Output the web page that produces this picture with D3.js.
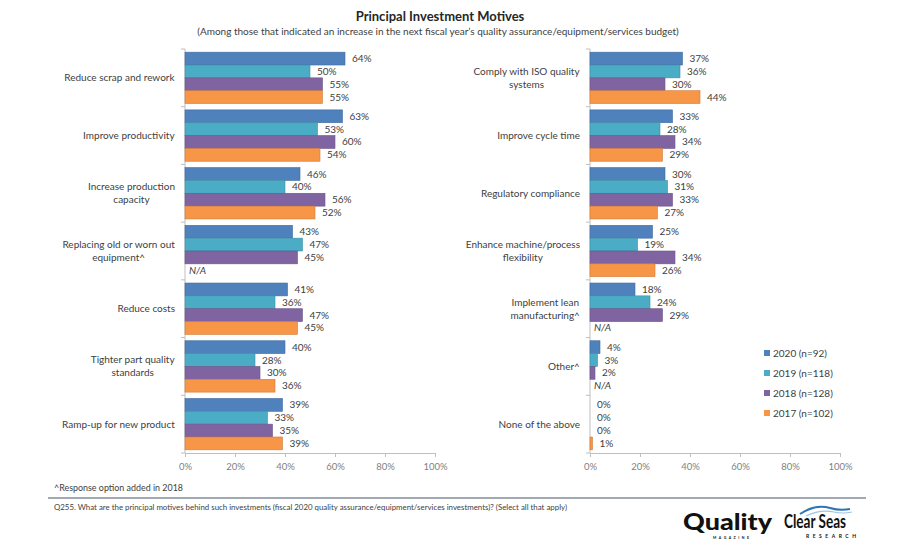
<!DOCTYPE html>
<html><head><meta charset="utf-8">
<script src="https://cdn.jsdelivr.net/npm/d3@7"></script>
<style>body{margin:0;background:#fff}svg{display:block}text{font-family:Lato,"Open Sans",sans-serif}</style>
</head><body><svg id="c" width="900" height="550"></svg>
<script>
const series = ["2020 (n=92)", "2019 (n=118)", "2018 (n=128)", "2017 (n=102)"];
const colors = ["#4F81BD", "#4BACC6", "#8064A2", "#F79646"];
const leftCategories = [["Reduce scrap and rework"],["Improve productivity"],["Increase production","capacity"],["Replacing old or worn out","equipment^"],["Reduce costs"],["Tighter part quality","standards"],["Ramp-up for new product"]];
const leftValues = [[64,50,55,55],[63,53,60,54],[46,40,56,52],[43,47,45,null],[41,36,47,45],[40,28,30,36],[39,33,35,39]];
const rightCategories = [["Comply with ISO quality","systems"],["Improve cycle time"],["Regulatory compliance"],["Enhance machine/process","flexibility"],["Implement lean","manufacturing^"],["Other^"],["None of the above"]];
const rightValues = [[37,36,30,44],[33,28,34,29],[30,31,33,27],[25,19,34,26],[18,24,29,null],[4,3,2,null],[0,0,0,1]];
const xTicks = [0,20,40,60,80,100];

const svg = d3.select("#c");
const textCol = "#404040", axisCol = "#BFBFBF";

svg.append("text").attr("x",440).attr("y",21).attr("text-anchor","middle").attr("font-size",13).attr("font-weight","bold").attr("fill","#262626").text("Principal Investment Motives");
svg.append("text").attr("x",438).attr("y",35).attr("text-anchor","middle").attr("font-size",10).attr("fill",textCol).text("(Among those that indicated an increase in the next fiscal year\u2019s quality assurance/equipment/services budget)");

function panel(x0, cats, vals) {
  const x = d3.scaleLinear().domain([0,100]).range([x0, x0+250]);
  const idx = cats.map((d,i)=>i);
  const y = d3.scaleBand().domain(idx).range([49,453]).paddingInner(0.11).paddingOuter(0.055);
  const yb = d3.scaleBand().domain(d3.range(series.length)).range([0,y.bandwidth()]);
  const step = y.step();
  const g = svg.append("g");
  const ax = g.append("g").attr("transform","translate(0,453)").call(d3.axisBottom(x).tickValues(xTicks).tickFormat(d=>d+"%").tickSize(4).tickSizeOuter(0));
  ax.select(".domain").attr("stroke",axisCol);
  ax.selectAll(".tick line").attr("stroke",axisCol);
  ax.selectAll("text").attr("fill","#7F7F7F").attr("font-size",9.5).attr("font-family","Lato").attr("dy","1.1em");
  g.append("line").attr("x1",x0).attr("x2",x0).attr("y1",49).attr("y2",453).attr("stroke",axisCol);
  d3.range(cats.length+1).forEach(i=>{
    const yy = 49 + i*step;
    g.append("line").attr("x1",x0-4).attr("x2",x0).attr("y1",yy).attr("y2",yy).attr("stroke",axisCol);
  });
  vals.forEach((row,i)=>{
    row.forEach((v,j)=>{
      const yy = y(i)+yb(j);
      if (v===null) {
        g.append("text").attr("x",x0+4).attr("y",yy+yb.bandwidth()/2).attr("dy","0.35em").attr("font-size",10).attr("font-style","italic").attr("fill",textCol).text("N/A");
        return;
      }
      g.append("rect").attr("x",x(0)).attr("y",yy).attr("width",x(v)-x(0)).attr("height",yb.bandwidth())
        .attr("fill",colors[j]).attr("stroke",d3.color(colors[j]).darker(0.5)).attr("stroke-width",0.6);
      g.append("text").attr("x",x(v)+7).attr("y",yy+yb.bandwidth()/2).attr("dy","0.35em").attr("font-size",10).attr("fill",textCol).text(v+"%");
    });
    const lines = cats[i];
    const t = g.append("text").attr("font-size",10).attr("fill",textCol).attr("text-anchor","middle");
    const cy = 49 + (i+0.5)*step;
    const lh = 13;
    lines.forEach((ln,k)=>{
      t.append("tspan").attr("x",0).attr("y",cy + (k-(lines.length-1)/2)*lh).attr("dy","0.35em").text(ln);
    });
    const w = t.node().getBBox().width;
    t.attr("transform",`translate(${x0-10-w/2},0)`);
  });
}
panel(185, leftCategories, leftValues);
panel(590, rightCategories, rightValues);

const lg = svg.append("g");
series.forEach((s,i)=>{
  const yy = 353 + i*20;
  lg.append("rect").attr("x",764).attr("y",yy-3).attr("width",6).attr("height",6).attr("fill",colors[i]);
  lg.append("text").attr("x",773).attr("y",yy).attr("dy","0.35em").attr("font-size",10).attr("fill",textCol).text(s);
});

svg.append("text").attr("x",54).attr("y",491).attr("font-size",8.5).attr("fill",textCol).attr("textLength",129).attr("lengthAdjust","spacingAndGlyphs").text("^Response option added in 2018");
svg.append("line").attr("x1",48).attr("x2",866).attr("y1",498).attr("y2",498).attr("stroke","#44546A").attr("stroke-width",1.2);
svg.append("text").attr("x",54).attr("y",510).attr("font-size",7).attr("fill",textCol).attr("textLength",513).attr("lengthAdjust","spacingAndGlyphs").text("Q255. What are the principal motives behind such investments (fiscal 2020 quality assurance/equipment/services investments)? (Select all that apply)");

svg.append("text").attr("x",683).attr("y",530).attr("font-size",22).attr("font-weight",900).attr("font-family","Liberation Sans").attr("fill","#111").attr("textLength",89).attr("lengthAdjust","spacingAndGlyphs").text("Quality");
svg.append("text").attr("x",713).attr("y",539).attr("font-size",3.5).attr("font-weight","bold").attr("fill","#111").attr("textLength",36).text("MAGAZINE");
svg.append("text").attr("x",784).attr("y",528).attr("font-size",18).attr("font-weight","bold").attr("font-family","Liberation Sans Narrow, Liberation Sans").attr("fill","#111").attr("textLength",62).attr("lengthAdjust","spacingAndGlyphs").text("Clear Seas");
svg.append("text").attr("x",806).attr("y",538).attr("font-size",5).attr("font-weight","bold").attr("fill","#111").attr("textLength",50).text("RESEARCH");
svg.append("path").attr("d","M800,514 Q815,504 830,508 Q840,511 850,509").attr("fill","none").attr("stroke","#2E75B6").attr("stroke-width",2);
svg.append("path").attr("d","M806,516 Q820,509 834,512 Q843,514 852,512").attr("fill","none").attr("stroke","#9DC3E6").attr("stroke-width",1.2);
</script></body></html>
